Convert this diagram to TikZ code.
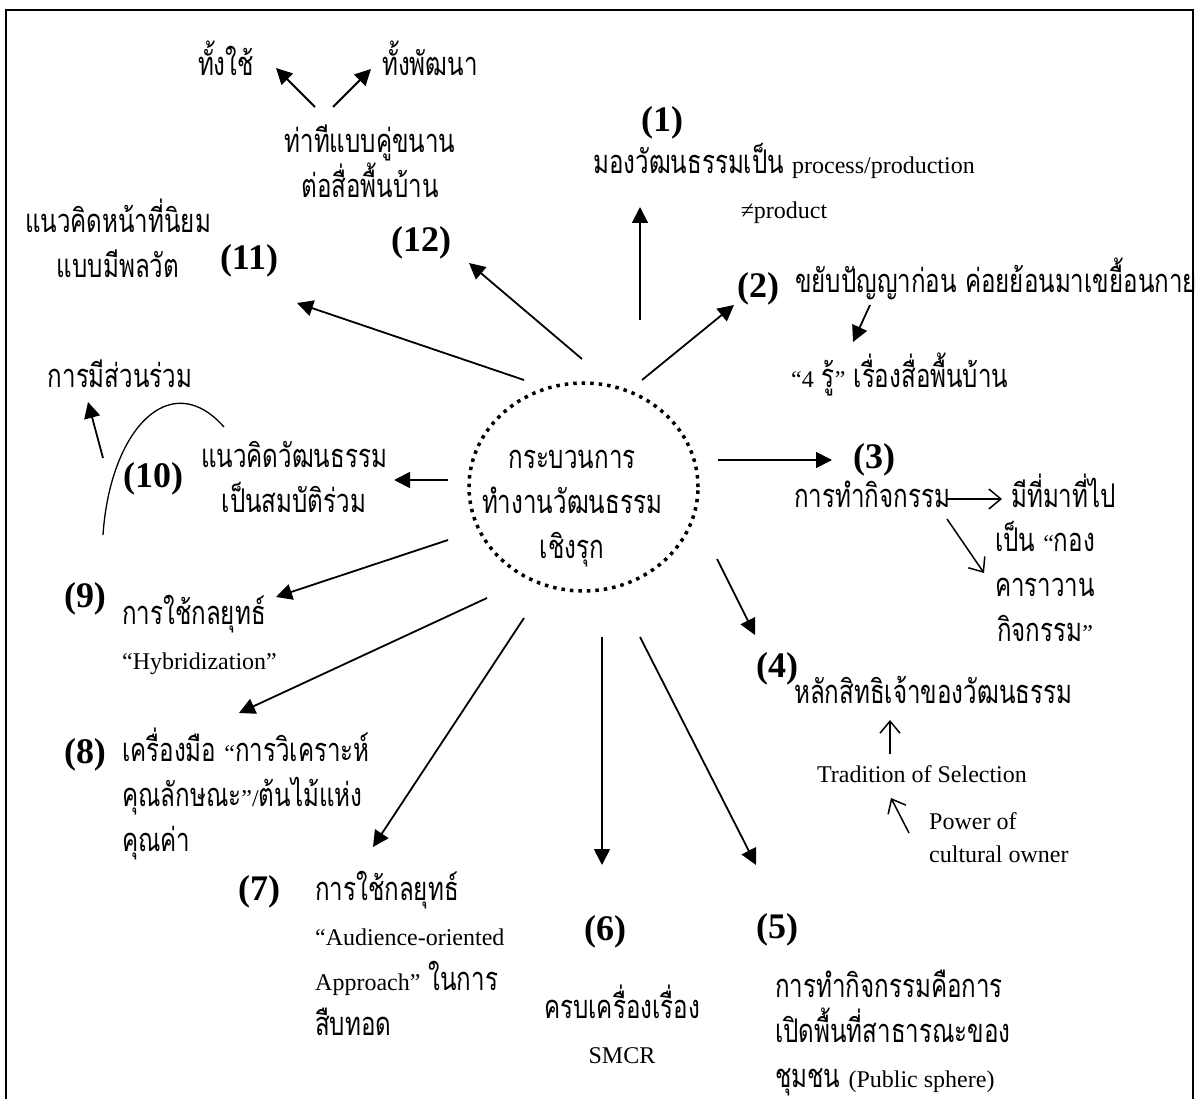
\documentclass[tikz,border=0pt]{standalone}
\usepackage{fontspec}
\setmainfont{Liberation Serif}
\newfontfamily\thai[Script=Thai,Scale=1.36,FakeStretch=0.74]{Loma}
\usetikzlibrary{arrows.meta,shapes.geometric}

\begin{document}
\begin{tikzpicture}[x=1pt,y=-1pt,
    thl/.style={font=\fontsize{24}{45}\selectfont\thai, inner sep=0pt},
    enl/.style={font=\fontsize{24}{45}\selectfont, inner sep=0pt},
    num/.style={font=\fontsize{36}{36}\selectfont\bfseries, inner sep=0pt, anchor=base},
    arr/.style={-{Triangle[length=16pt,width=16pt]}, line width=1.8pt},
    thinarr/.style={-{Straight Barb[length=12pt,width=20pt]}, line width=1.5pt}]
    \useasboundingbox (0,0) rectangle (1197,1099);
    \draw[line width=1.5pt] (6,1110) -- (6,10) -- (1193,10) -- (1193,1110);

    % centre
    \node[ellipse, draw, line width=3.5pt, dash pattern=on 3.5pt off 5pt,
        minimum width=229pt, minimum height=208pt, inner sep=0pt] (core) at (583.5,487) {};
    \node[thl, align=center, anchor=base] (coretxt) at (572,558) {กระบวนการ\\ทำงานวัฒนธรรม\\เชิงรุก};

    % arrow ends
    \coordinate (a1s) at (640,320);  \coordinate (a1e) at (640,207);
    \coordinate (a2s) at (642,380);  \coordinate (a2e) at (734,305);
    \coordinate (a3s) at (718,460);  \coordinate (a3e) at (832,460);
    \coordinate (a4s) at (717,559);  \coordinate (a4e) at (755,635);
    \coordinate (a5s) at (640,637);  \coordinate (a5e) at (756,865);
    \coordinate (a6s) at (602,637);  \coordinate (a6e) at (602,865);
    \coordinate (a7s) at (524,618);  \coordinate (a7e) at (373,847);
    \coordinate (a8s) at (487,598);  \coordinate (a8e) at (239,713);
    \coordinate (a9s) at (448,540);  \coordinate (a9e) at (276,597);
    \coordinate (a10s) at (448,480); \coordinate (a10e) at (394,480);
    \coordinate (a11s) at (524,380); \coordinate (a11e) at (297,303);
    \coordinate (a12s) at (582,359); \coordinate (a12e) at (469,263);

    \foreach \i in {1,...,12}
        \draw[arr] (a\i s) -- (a\i e);

    % (1)
    \node[num] (n1) at (662,132) {(1)};
    \node[thl, align=center, anchor=base] (t1) at (784,219) {มองวัฒนธรรมเป็น {\rmfamily process/production}\\{\rmfamily ≠product}};

    % (2)
    \node[num] (n2) at (758,298) {(2)};
    \node[thl, anchor=base west] (t2) at (795,293) {ขยับปัญญาก่อน ค่อยย้อนมาเขยื้อนกาย};
    \node[thl, anchor=base west] (t2b) at (791,387) {{\rmfamily “4} รู้{\rmfamily ”} เรื่องสื่อพื้นบ้าน};
    \coordinate (s2s) at (870,305); \coordinate (s2e) at (853,342);
    \draw[arr] (s2s) -- (s2e);

    % (3)
    \node[num] (n3) at (874,468) {(3)};
    \node[thl, anchor=base west] (t3) at (794,507) {การทำกิจกรรม};
    \node[thl, anchor=base west] (t3a) at (1011,507) {มีที่มาที่ไป};
    \node[thl, align=center, anchor=base] (t3b) at (1045,641) {เป็น {\rmfamily “}กอง\\คาราวาน\\กิจกรรม{\rmfamily ”}};
    \coordinate (s3s) at (947,499); \coordinate (s3e) at (1002,499);
    \coordinate (s3bs) at (947,519); \coordinate (s3be) at (984,573);
    \draw[thinarr] (s3s) -- (s3e);
    \draw[thinarr] (s3bs) -- (s3be);

    % (4)
    \node[num] (n4) at (777,677) {(4)};
    \node[thl, anchor=base west] (t4) at (794,703) {หลักสิทธิเจ้าของวัฒนธรรม};
    \node[enl, anchor=base] (t4a) at (922,782) {Tradition of Selection};
    \node[enl, font=\fontsize{24}{33}\selectfont, align=left, anchor=base west] (t4b) at (929,862) {Power of\\cultural owner};
    \coordinate (s4s) at (890,754); \coordinate (s4e) at (890,720);
    \coordinate (s4bs) at (909,833); \coordinate (s4be) at (891,798);
    \draw[thinarr] (s4s) -- (s4e);
    \draw[thinarr] (s4bs) -- (s4be);

    % (5)
    \node[num] (n5) at (777,938) {(5)};
    \node[thl, align=left, anchor=base west] (t5) at (775,1087) {การทำกิจกรรมคือการ\\เปิดพื้นที่สาธารณะของ\\ชุมชน {\rmfamily (Public sphere)}};

    % (6)
    \node[num] (n6) at (605,940) {(6)};
    \node[thl, align=center, anchor=base] (t6) at (622,1063) {ครบเครื่องเรื่อง\\{\rmfamily SMCR}};

    % (7)
    \node[num] (n7) at (259,900) {(7)};
    \node[thl, align=left, anchor=base west] (t7) at (315,1035) {การใช้กลยุทธ์\\{\rmfamily “Audience-oriented}\\{\rmfamily Approach”} ในการ\\สืบทอด};

    % (8)
    \node[num] (n8) at (85,763) {(8)};
    \node[thl, align=left, anchor=base west] (t8) at (122,851) {เครื่องมือ {\rmfamily “}การวิเคราะห์\\คุณลักษณะ{\rmfamily ”/}ต้นไม้แห่ง\\คุณค่า};

    % (9)
    \node[num] (n9) at (85,607) {(9)};
    \node[thl, align=left, anchor=base west] (t9) at (122,669) {การใช้กลยุทธ์\\{\rmfamily “Hybridization”}};

    % (10)
    \node[num] (n10) at (153,487) {(10)};
    \node[thl, align=center, anchor=base] (t10) at (294,512) {แนวคิดวัฒนธรรม\\เป็นสมบัติร่วม};
    \node[thl, anchor=base] (t10a) at (120,388) {การมีส่วนร่วม};
    \coordinate (arcA) at (103,535); \coordinate (arcB) at (224,427);
    \draw[line width=1.3pt] (arcA) .. controls (110,430) and (170,366) .. (arcB);
    \coordinate (s10s) at (103,458); \coordinate (s10e) at (88,402);
    \draw[arr] (s10s) -- (s10e);

    % (11)
    \node[num] (n11) at (249,270) {(11)};
    \node[thl, align=center, anchor=base] (t11) at (118,278) {แนวคิดหน้าที่นิยม\\แบบมีพลวัต};

    % (12)
    \node[num] (n12) at (421,252) {(12)};
    \node[thl, align=center, anchor=base] (t12) at (370,198) {ท่าทีแบบคู่ขนาน\\ต่อสื่อพื้นบ้าน};
    \node[thl, anchor=base] (use) at (226,76) {ทั้งใช้};
    \node[thl, anchor=base] (dev) at (430,76) {ทั้งพัฒนา};
    \coordinate (u1s) at (315,107); \coordinate (u1e) at (276,68);
    \coordinate (u2s) at (333,107); \coordinate (u2e) at (371,69);
    \draw[arr] (u1s) -- (u1e);
    \draw[arr] (u2s) -- (u2e);
\end{tikzpicture}
\end{document}
